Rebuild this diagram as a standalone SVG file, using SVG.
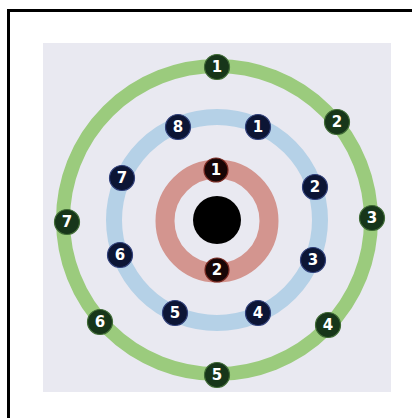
<svg xmlns="http://www.w3.org/2000/svg" width="412" height="418" viewBox="0 0 412 418">
<style>
.ring{fill:none}
.e text{font-family:"DejaVu Sans","Liberation Sans",sans-serif;font-weight:bold;font-size:15px;fill:#ffffff;text-anchor:middle;dominant-baseline:central}
.g circle{fill:#17361a;stroke:#3f6b35;stroke-width:1.2}
.b circle{fill:#0c1535;stroke:#2f3f7a;stroke-width:1.2}
.r circle{fill:#180606;stroke:#7a2a22;stroke-width:1.2}
</style>
<rect x="0" y="0" width="412" height="418" fill="#ffffff"/>
<path d="M8.5 418 V10.5 H412" fill="none" stroke="#000" stroke-width="3"/>
<rect x="43" y="43" width="348" height="349" fill="#e9e9f1"/>
<g id="shells">
<circle class="ring" cx="217" cy="220" r="154" stroke="#9bcb7d" stroke-width="14"/>
<circle class="ring" cx="217" cy="220" r="103" stroke="#b5d1e7" stroke-width="16"/>
<circle class="ring" cx="217" cy="221" r="52" stroke="#d3958f" stroke-width="19"/>
</g>
<g id="nucleus"><circle cx="217" cy="220" r="24" fill="#000"/></g>
<g id="outer" class="e g">
<g id="g1"><circle cx="217" cy="67" r="12.5"/><text x="217" y="67">1</text></g>
<g id="g2"><circle cx="337" cy="122" r="12.5"/><text x="337" y="122">2</text></g>
<g id="g3"><circle cx="372" cy="218" r="12.5"/><text x="372" y="218">3</text></g>
<g id="g4"><circle cx="328" cy="325" r="12.5"/><text x="328" y="325">4</text></g>
<g id="g5"><circle cx="217" cy="375" r="12.5"/><text x="217" y="375">5</text></g>
<g id="g6"><circle cx="100" cy="322" r="12.5"/><text x="100" y="322">6</text></g>
<g id="g7"><circle cx="67" cy="222" r="12.5"/><text x="67" y="222">7</text></g>
</g>
<g id="middle" class="e b">
<g id="b1"><circle cx="258" cy="127" r="12.5"/><text x="258" y="127">1</text></g>
<g id="b2"><circle cx="315" cy="187" r="12.5"/><text x="315" y="187">2</text></g>
<g id="b3"><circle cx="313" cy="260" r="12.5"/><text x="313" y="260">3</text></g>
<g id="b4"><circle cx="258" cy="313" r="12.5"/><text x="258" y="313">4</text></g>
<g id="b5"><circle cx="175" cy="313" r="12.5"/><text x="175" y="313">5</text></g>
<g id="b6"><circle cx="120" cy="255" r="12.5"/><text x="120" y="255">6</text></g>
<g id="b7"><circle cx="122" cy="178" r="12.5"/><text x="122" y="178">7</text></g>
<g id="b8"><circle cx="178" cy="127" r="12.5"/><text x="178" y="127">8</text></g>
</g>
<g id="inner" class="e r">
<g id="r1"><circle cx="216" cy="170" r="12"/><text x="216" y="170">1</text></g>
<g id="r2"><circle cx="217" cy="270" r="12"/><text x="217" y="270">2</text></g>
</g>
</svg>
